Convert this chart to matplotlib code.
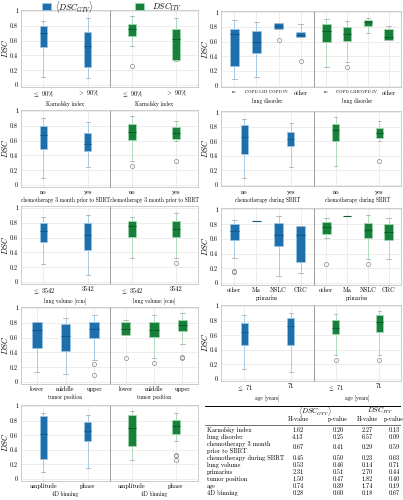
import numpy as np
import matplotlib.pyplot as plt
from matplotlib.patches import Rectangle

plt.rcParams['font.family'] = 'serif'
plt.rcParams['font.serif'] = ['cmr10', 'DejaVu Serif']
plt.rcParams['mathtext.fontset'] = 'cm'
plt.rcParams['axes.formatter.use_mathtext'] = True

W, H = 403, 500
blue, blue_light, blue_dark = '#1f6fad', '#9cc7e6', '#155a8c'
green, green_light, green_dark = '#17803a', '#a6d8b4', '#0f5e2a'

# box stats: (whislo, q1, med, q3, whishi, fliers)
karnofsky_labels = [r'$\leq$ 90%', r'$>$ 90%']
karnofsky_gtv = [(0.11, 0.52, 0.70, 0.80, 0.87, []), (0.09, 0.24, 0.53, 0.71, 0.90, [])]
karnofsky_itv = [(0.53, 0.66, 0.75, 0.82, 0.93, [0.26]), (0.33, 0.34, 0.62, 0.76, 0.91, [])]

lung_labels = ['no', 'COPD I-III', 'COPD IV', 'other']
lung_gtv = [(0.09, 0.27, 0.70, 0.78, 0.90, []), (0.11, 0.45, 0.60, 0.74, 0.87, []),
            (0.77, 0.77, 0.81, 0.85, 0.85, [0.62]), (0.66, 0.66, 0.69, 0.73, 0.84, [0.34])]
lung_itv = [(0.26, 0.59, 0.75, 0.84, 0.91, []), (0.32, 0.61, 0.70, 0.80, 0.88, [0.26]),
            (0.72, 0.82, 0.87, 0.90, 0.92, []), (0.62, 0.62, 0.66, 0.77, 0.82, [])]

chemo3_labels = ['no', 'yes']
chemo3_gtv = [(0.09, 0.48, 0.67, 0.80, 0.91, []), (0.24, 0.46, 0.56, 0.70, 0.85, [])]
chemo3_itv = [(0.33, 0.61, 0.72, 0.82, 0.93, [0.26]), (0.60, 0.62, 0.70, 0.79, 0.87, [0.32])]

chemod_labels = ['no', 'yes']
chemod_gtv = [(0.09, 0.43, 0.66, 0.82, 0.91, []), (0.24, 0.53, 0.63, 0.73, 0.86, [])]
chemod_itv = [(0.26, 0.61, 0.75, 0.84, 0.93, []), (0.60, 0.64, 0.71, 0.79, 0.88, [0.32])]

volume_labels = [r'$\leq$ 3542', '3542']
volume_gtv = [(0.24, 0.54, 0.69, 0.80, 0.88, []), (0.09, 0.43, 0.64, 0.80, 0.91, [])]
volume_itv = [(0.33, 0.61, 0.75, 0.83, 0.88, []), (0.32, 0.61, 0.72, 0.82, 0.93, [0.26])]

prim_labels = ['other', 'Ma', 'NSLC', 'CRC']
prim_gtv = [(0.34, 0.59, 0.71, 0.80, 0.86, [0.15, 0.16]), (0.85, 0.85, 0.85, 0.85, 0.85, []),
            (0.09, 0.50, 0.65, 0.81, 0.91, []), (0.14, 0.28, 0.65, 0.78, 0.78, [])]
prim_itv = [(0.61, 0.67, 0.76, 0.83, 0.89, [0.26]), (0.91, 0.91, 0.91, 0.91, 0.91, []),
            (0.32, 0.61, 0.72, 0.82, 0.93, [0.26]), (0.33, 0.59, 0.70, 0.80, 0.88, [])]

tumor_labels = ['lower', 'middle', 'upper']
tumor_gtv = [(0.14, 0.46, 0.70, 0.81, 0.81, []), (0.11, 0.42, 0.62, 0.78, 0.87, []),
             (0.30, 0.60, 0.71, 0.81, 0.90, [0.24, 0.09])]
tumor_itv = [(0.64, 0.64, 0.72, 0.81, 0.84, [0.33]), (0.33, 0.61, 0.70, 0.81, 0.91, [0.26]),
             (0.52, 0.69, 0.77, 0.84, 0.93, [0.33, 0.34])]

age_labels = [r'$\leq$ 71', '71']
age_gtv = [(0.14, 0.46, 0.65, 0.77, 0.87, []), (0.09, 0.47, 0.72, 0.84, 0.91, [])]
age_itv = [(0.33, 0.61, 0.70, 0.81, 0.89, [0.26]), (0.33, 0.65, 0.78, 0.87, 0.93, [0.26])]

binning_labels = ['amplitude', 'phase']
binning_gtv = [(0.09, 0.28, 0.62, 0.86, 0.90, []), (0.15, 0.52, 0.66, 0.78, 0.87, [])]
binning_itv = [(0.26, 0.45, 0.70, 0.88, 0.93, []), (0.52, 0.62, 0.72, 0.81, 0.91, [0.33, 0.31, 0.26])]

# table values
tab_rows = ['Karnofsky index', 'lung disorder', 'chemotherapy 3 month\nprior to SBRT',
            'chemotherapy during SBRT', 'lung volume', 'primarius', 'tumor position', 'age', '4D binning']
h_gtv = ['1.62', '4.13', '0.67', '0.45', '0.53', '2.31', '1.50', '0.74', '0.28']
p_gtv = ['0.20', '0.25', '0.41', '0.50', '0.46', '0.51', '0.47', '0.39', '0.60']
h_itv = ['2.27', '6.57', '0.29', '0.23', '0.14', '2.70', '1.82', '1.74', '0.18']
p_itv = ['0.13', '0.09', '0.59', '0.63', '0.71', '0.44', '0.40', '0.19', '0.67']


def stats_of(boxes):
    return [dict(whislo=b[0], q1=b[1], med=b[2], q3=b[3], whishi=b[4], fliers=b[5]) for b in boxes]


def rect(x0, x1, top, bottom):
    return [x0 / W, 1 - bottom / H, (x1 - x0) / W, (bottom - top) / H]


def draw(ax, boxes, labels, xlabel, width, col, light, dark, small=()):
    n = len(boxes)
    ax.bxp(stats_of(boxes), positions=np.arange(1, n + 1), widths=width, patch_artist=True,
           boxprops=dict(facecolor=col, edgecolor=light, linewidth=0.5),
           medianprops=dict(color=dark, linewidth=0.8),
           whiskerprops=dict(color=light, linewidth=0.6),
           capprops=dict(color='#b0b0b0', linewidth=0.6),
           flierprops=dict(marker='o', markersize=3, markerfacecolor='none',
                           markeredgecolor='#8a8a8a', markeredgewidth=0.5))
    ax.set_xlim(0.5 - 0.05 * (n - 2), n + 0.5 + 0.05 * (n - 2))
    ax.set_ylim(-0.02, 1.02)
    ax.grid(True, color='#e6e6e6', linewidth=0.5)
    ax.set_axisbelow(True)
    ax.tick_params(length=0, pad=2, labelsize=4.5)
    ax.set_yticks([0, 0.2, 0.4, 0.6, 0.8, 1.0])
    ax.set_yticklabels(['0', '0.2', '0.4', '0.6', '0.8', '1'])
    ax.set_xticks(np.arange(1, n + 1))
    ax.set_xticklabels(labels)
    for i, t in enumerate(ax.get_xticklabels()):
        t.set_fontsize(3.1 if i in small else 4.5)
    ax.set_xlabel(xlabel, fontsize=3.8, labelpad=1.5)
    for s in ax.spines.values():
        s.set_color('#c4c4c4')
        s.set_linewidth(0.6)


fig = plt.figure(figsize=(4.03, 5.0), dpi=100)

panels = [
    (0, 9.5, 86.5, karnofsky_gtv, karnofsky_itv, karnofsky_labels, 'Karnofsky index', 0.16, ()),
    (1, 11, 87, lung_gtv, lung_itv, lung_labels, 'lung disorder', 0.42, (0, 1, 2)),
    (0, 109.5, 186.5, chemo3_gtv, chemo3_itv, chemo3_labels, 'chemotherapy 3 month prior to SBRT', 0.16, ()),
    (1, 111, 186, chemod_gtv, chemod_itv, chemod_labels, 'chemotherapy during SBRT', 0.16, ()),
    (0, 206.5, 283.5, volume_gtv, volume_itv, volume_labels, 'lung volume [ccm]', 0.16, ()),
    (1, 208, 284.5, prim_gtv, prim_itv, prim_labels, 'primarius', 0.42, ()),
    (0, 306.5, 383.5, tumor_gtv, tumor_itv, tumor_labels, 'tumor position', 0.33, ()),
    (1, 304.5, 380.5, age_gtv, age_itv, age_labels, 'age [years]', 0.16, ()),
    (0, 404.5, 480.5, binning_gtv, binning_itv, binning_labels, '4D binning', 0.16, ()),
]
cols = [(21, 110, 198), (221, 314, 401)]

for c, top, bot, gtv, itv, labels, xlabel, width, small in panels:
    x0, xm, x1 = cols[c]
    ax1 = fig.add_axes(rect(x0, xm, top, bot))
    ax2 = fig.add_axes(rect(xm, x1, top, bot))
    draw(ax1, gtv, labels, xlabel, width, blue, blue_light, blue_dark, small)
    draw(ax2, itv, labels, xlabel, width, green, green_light, green_dark, small)
    ax2.tick_params(labelleft=False)
    ax1.spines['right'].set_color('#8c8c8c')
    ax2.spines['left'].set_color('#8c8c8c')
    ax1.set_ylabel('$DSC$', fontsize=5.8)
    ax1.yaxis.set_label_coords(-11.0 / (xm - x0), 0.5)

# legend drawn by hand at the top
fig.patches.append(Rectangle((42 / W, 1 - 9.5 / H), 9 / W, 6 / H, transform=fig.transFigure,
                             facecolor=blue, edgecolor=blue_light, linewidth=0.5))
fig.patches.append(Rectangle((135 / W, 1 - 9.5 / H), 9 / W, 6 / H, transform=fig.transFigure,
                             facecolor=green, edgecolor=green_light, linewidth=0.5))
fig.text(55 / W, 1 - 6.8 / H, r'$\langle DSC_{GTV}\rangle$', fontsize=6.0, va='center', ha='left')
fig.text(152 / W, 1 - 6.8 / H, r'$DSC_{ITV}$', fontsize=6.0, va='center', ha='left')

# table
tx = fig.add_axes(rect(205, 401, 405, 498))
tx.set_xlim(0, 196)
tx.set_ylim(93, 0)
tx.axis('off')
fs = 4.5
tx.plot([0, 196], [0.5, 0.5], color='black', lw=0.7)
tx.plot([0, 196], [19.5, 19.5], color='black', lw=0.4)
tx.plot([0, 196], [92.5, 92.5], color='black', lw=0.7)
tx.text(110, 6, r'$\langle DSC_{GTV}\rangle$', ha='center', va='center', fontsize=5.2)
tx.text(175, 6, r'$DSC_{ITV}$', ha='center', va='center', fontsize=5.2)
xs = [93, 133, 162, 189]
for xc, lab in zip(xs, ['H-value', 'p-value', 'H-value', 'p-value']):
    tx.text(xc, 14, lab, ha='center', va='center', fontsize=fs)
y = 25
for i, name in enumerate(tab_rows):
    nl = name.count('\n') + 1
    yc = y + 3.5 * (nl - 1)
    tx.text(2, yc, name, ha='left', va='center', fontsize=fs, linespacing=1.15)
    for xc, v in zip(xs, [h_gtv[i], p_gtv[i], h_itv[i], p_itv[i]]):
        tx.text(xc, yc, v, ha='center', va='center', fontsize=fs)
    y += 7 * nl

fig.savefig('out.png', dpi=100)
